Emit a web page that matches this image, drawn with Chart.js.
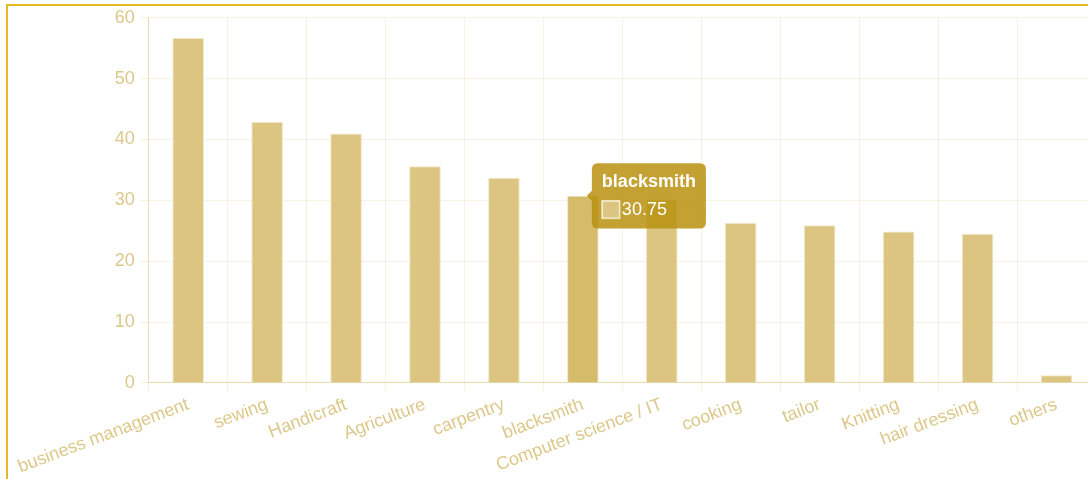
<!DOCTYPE html>
<html>
<head>
<meta charset="utf-8">
<script src="https://cdn.jsdelivr.net/npm/chart.js@4"></script>
<style>
  html, body { margin: 0; padding: 0; background: #fff; overflow: hidden; }
  #frame {
    position: absolute; left: 6px; top: 4px;
    width: 1300px; height: 600px;
    border: 2px solid #e3b925;
  }
  #wrap { position: absolute; left: 6px; top: -5px; width: 1082px; height: 480px; }
</style>
</head>
<body>
<div id="frame">
  <div id="wrap"><canvas id="barChart"></canvas></div>
</div>
<script>
// Courses and the share for each one
const courseLabels = [
  "business management", "sewing", "Handicraft", "Agriculture", "carpentry",
  "blacksmith", "Computer science / IT", "cooking", "tailor", "Knitting",
  "hair dressing", "others"
];
const courseValues = [56.7, 42.9, 41, 35.6, 33.7, 30.75, 30.2, 26.3, 25.9, 24.9, 24.5, 1.25];
const yTicks = [0, 10, 20, 30, 40, 50, 60];

const tickColor = "#dcc88a";
const gridColor = "rgba(212, 180, 90, 0.17)";
const axisColor = "#e9dcb0";

Chart.defaults.font.size = 18;
Chart.defaults.color = tickColor;

const ctx = document.getElementById("barChart").getContext("2d");
const chart = new Chart(ctx, {
  type: "bar",
  data: {
    labels: courseLabels,
    datasets: [
      {
        data: courseValues,
        backgroundColor: "#dbc580",
        hoverBackgroundColor: "#d4bc6a",
        borderColor: "#f1e6c4",
        hoverBorderColor: "#f1e6c4",
        borderWidth: 1,
        barPercentage: 0.5,
        categoryPercentage: 0.8,
      },
    ],
  },
  options: {
    responsive: true,
    maintainAspectRatio: false,
    animation: false,
    plugins: {
      legend: { display: false },
      tooltip: {
        backgroundColor: "rgba(185, 145, 15, 0.85)",
        titleColor: "#fff",
        bodyColor: "#fff",
        titleFont: { size: 18, weight: "bold" },
        bodyFont: { size: 18 },
        padding: { x: 10, y: 8 },
        cornerRadius: 6,
        caretPadding: 4,
        multiKeyBackground: "#fff",
      },
    },
    scales: {
      x: {
        grid: { color: gridColor },
        border: { color: axisColor },
        ticks: { color: tickColor },
      },
      y: {
        min: 0,
        max: 60,
        afterBuildTicks: (axis) => {
          axis.ticks = yTicks.map((v) => ({ value: v }));
        },
        grid: { color: gridColor },
        border: { color: axisColor },
        ticks: { color: tickColor, padding: 6 },
      },
    },
  },
});

// show the hover state on "blacksmith" like in the screenshot
const activeIndex = courseLabels.indexOf("blacksmith");
const bar = chart.getDatasetMeta(0).data[activeIndex];
chart.setActiveElements([{ datasetIndex: 0, index: activeIndex }]);
chart.tooltip.setActiveElements([{ datasetIndex: 0, index: activeIndex }], { x: bar.x, y: bar.y });
chart.update();
</script>
</body>
</html>
